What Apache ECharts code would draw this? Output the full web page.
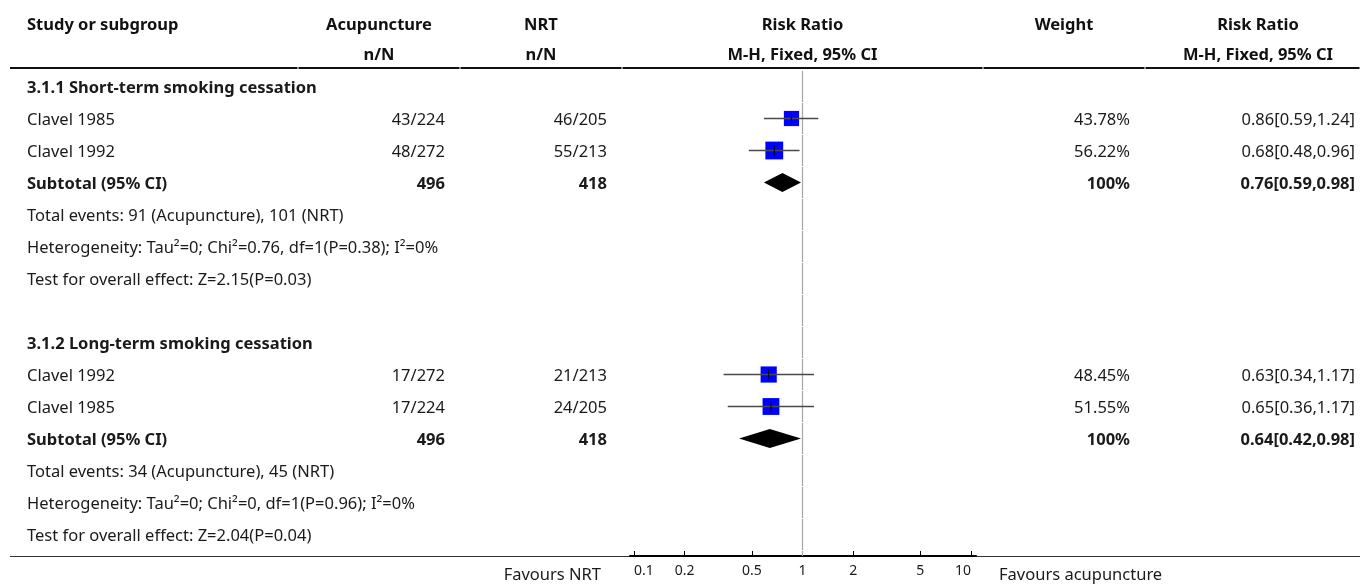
<!DOCTYPE html>
<html>
<head>
<meta charset="utf-8">
<script src="https://cdn.jsdelivr.net/npm/echarts@6/dist/echarts.min.js"></script>
<style>
  html, body { margin: 0; padding: 0; background: #fff; }
  #chart { width: 1360px; height: 584px; }
</style>
</head>
<body>
<div id="chart"></div>
<script>
// ---------------- data ----------------
const axisTickValues = [0.1, 0.2, 0.5, 1, 2, 5, 10];

const headerStudy = 'Study or subgroup';
const headerArmA = 'Acupuncture';
const headerArmB = 'NRT';
const headerCounts = 'n/N';
const headerEffect = 'Risk Ratio';
const headerMethod = 'M-H, Fixed, 95% CI';
const headerWeight = 'Weight';
const favoursLeft = 'Favours NRT';
const favoursRight = 'Favours acupuncture';

const group1Title = '3.1.1 Short-term smoking cessation';
const group1Studies = ['Clavel 1985', 'Clavel 1992'];
const group1AcuEvents = [43, 48];
const group1AcuTotal = [224, 272];
const group1NrtEvents = [46, 55];
const group1NrtTotal = [205, 213];
const group1RR = [0.86, 0.68];
const group1Lower = [0.59, 0.48];
const group1Upper = [1.24, 0.96];
const group1Weight = [43.78, 56.22];
const group1Subtotal = [0.76, 0.59, 0.98];
const group1SubtotalN = [496, 418];
const group1Notes = [
  'Total events: 91 (Acupuncture), 101 (NRT)',
  'Heterogeneity: Tau\u00B2=0; Chi\u00B2=0.76, df=1(P=0.38); I\u00B2=0%',
  'Test for overall effect: Z=2.15(P=0.03)'
];

const group2Title = '3.1.2 Long-term smoking cessation';
const group2Studies = ['Clavel 1992', 'Clavel 1985'];
const group2AcuEvents = [17, 17];
const group2AcuTotal = [272, 224];
const group2NrtEvents = [21, 24];
const group2NrtTotal = [213, 205];
const group2RR = [0.63, 0.65];
const group2Lower = [0.34, 0.36];
const group2Upper = [1.17, 1.17];
const group2Weight = [48.45, 51.55];
const group2Subtotal = [0.64, 0.42, 0.98];
const group2SubtotalN = [496, 418];
const group2Notes = [
  'Total events: 34 (Acupuncture), 45 (NRT)',
  'Heterogeneity: Tau\u00B2=0; Chi\u00B2=0, df=1(P=0.96); I\u00B2=0%',
  'Test for overall effect: Z=2.04(P=0.04)'
];

// ---------------- layout ----------------
const FONT = '"Noto Sans", "Open Sans", sans-serif';
const FS = 16.5;
const TEXT = '#1a1a1a';
const ROW_H = 32;
const FIRST_ROW_Y = 86.5;
const TEXT_DY = 1.5;
const TABLE_TOP = 70.5;
const AXIS_Y = 556;
const PLOT_LEFT = 630, PLOT_RIGHT = 976;
const PX_PER_DECADE = 168.5;
const TICK_MIN_X = 634;
const COL = { study: 27, acu: 445, nrt: 607, weight: 1130, rr: 1355 };
const HEAD = { acu: 379, nrt: 541, plot: 802.5, weight: 1064, rr: 1258 };
const COL_BREAKS = [298, 460, 622, 983, 1145];

const yMin = (TABLE_TOP - FIRST_ROW_Y) / ROW_H;
const yMax = (AXIS_Y - FIRST_ROW_Y) / ROW_H;
const xMin = -1 - (TICK_MIN_X - PLOT_LEFT) / PX_PER_DECADE;
const xMax = xMin + (PLOT_RIGHT - PLOT_LEFT) / PX_PER_DECADE;

const fmt2 = v => v.toFixed(2);
const ciText = (r, l, u) => fmt2(r) + '[' + fmt2(l) + ',' + fmt2(u) + ']';

// ---------------- build rows ----------------
const textItems = [];   // table cells
const marks = [];       // plot marks
let row = 0;

function addGroup(title, studies, aE, aT, nE, nT, rr, lo, hi, w, sub, subN, notes) {
  textItems.push({ row, x: COL.study, align: 'left', text: title, bold: true });
  row++;
  studies.forEach((s, i) => {
    textItems.push({ row, x: COL.study, align: 'left', text: s });
    textItems.push({ row, x: COL.acu, align: 'right', text: aE[i] + '/' + aT[i] });
    textItems.push({ row, x: COL.nrt, align: 'right', text: nE[i] + '/' + nT[i] });
    textItems.push({ row, x: COL.weight, align: 'right', text: fmt2(w[i]) + '%' });
    textItems.push({ row, x: COL.rr, align: 'right', text: ciText(rr[i], lo[i], hi[i]) });
    marks.push([Math.log10(rr[i]), row, Math.log10(lo[i]), Math.log10(hi[i]), w[i], 0]);
    row++;
  });
  textItems.push({ row, x: COL.study, align: 'left', text: 'Subtotal (95% CI)', bold: true });
  textItems.push({ row, x: COL.acu, align: 'right', text: String(subN[0]), bold: true });
  textItems.push({ row, x: COL.nrt, align: 'right', text: String(subN[1]), bold: true });
  textItems.push({ row, x: COL.weight, align: 'right', text: '100%', bold: true });
  textItems.push({ row, x: COL.rr, align: 'right', text: ciText(sub[0], sub[1], sub[2]), bold: true });
  marks.push([Math.log10(sub[0]), row, Math.log10(sub[1]), Math.log10(sub[2]), 100, 1]);
  row++;
  notes.forEach(n => {
    textItems.push({ row, x: COL.study, align: 'left', text: n });
    row++;
  });
}

addGroup(group1Title, group1Studies, group1AcuEvents, group1AcuTotal, group1NrtEvents, group1NrtTotal,
  group1RR, group1Lower, group1Upper, group1Weight, group1Subtotal, group1SubtotalN, group1Notes);
row++; // spacer row
addGroup(group2Title, group2Studies, group2AcuEvents, group2AcuTotal, group2NrtEvents, group2NrtTotal,
  group2RR, group2Lower, group2Upper, group2Weight, group2Subtotal, group2SubtotalN, group2Notes);
const rowCount = row;

const refSegments = [];
for (let k = 0; k <= rowCount; k++) refSegments.push([0, k]);

// ---------------- chart ----------------
const chart = echarts.init(document.getElementById('chart'), null, { renderer: 'canvas' });

const headerText = (x, y, text, align) => ({
  type: 'text', x, y, silent: true,
  style: { text, fill: '#111', font: 'bold ' + FS + 'px ' + FONT, align: align || 'center', verticalAlign: 'middle' }
});

const hLine = (x1, x2, y, w, color) => ({
  type: 'line', silent: true,
  shape: { x1, y1: y, x2, y2: y },
  style: { stroke: color, lineWidth: w }
});

const graphics = [];
graphics.push(headerText(COL.study, 25, headerStudy, 'left'));
graphics.push(headerText(HEAD.acu, 25, headerArmA));
graphics.push(headerText(HEAD.acu, 55, headerCounts));
graphics.push(headerText(HEAD.nrt, 25, headerArmB));
graphics.push(headerText(HEAD.nrt, 55, headerCounts));
graphics.push(headerText(HEAD.plot, 25, headerEffect));
graphics.push(headerText(HEAD.plot, 55, headerMethod));
graphics.push(headerText(HEAD.weight, 25, headerWeight));
graphics.push(headerText(HEAD.rr, 25, headerEffect));
graphics.push(headerText(HEAD.rr, 55, headerMethod));

// header rule, split at the column edges
const edges = [10].concat(COL_BREAKS, [1360]);
for (let i = 0; i < edges.length - 1; i++) {
  graphics.push(hLine(edges[i] + (i ? 0.5 : 0), edges[i + 1] - 0.5, 68, 2, '#111'));
}
// bottom rule on both sides of the plot axis
graphics.push(hLine(10, PLOT_LEFT, AXIS_Y + 0.5, 1.2, '#333'));
graphics.push(hLine(PLOT_RIGHT, 1360, AXIS_Y + 0.5, 1.2, '#333'));

graphics.push({
  type: 'text', x: 601, y: 575, silent: true,
  style: { text: favoursLeft, fill: TEXT, font: FS + 'px ' + FONT, align: 'right', verticalAlign: 'middle' }
});
graphics.push({
  type: 'text', x: 999, y: 575, silent: true,
  style: { text: favoursRight, fill: TEXT, font: FS + 'px ' + FONT, align: 'left', verticalAlign: 'middle' }
});

const option = {
  animation: false,
  backgroundColor: '#fff',
  grid: [
    { left: PLOT_LEFT, top: TABLE_TOP, width: PLOT_RIGHT - PLOT_LEFT, height: AXIS_Y - TABLE_TOP, containLabel: false },
    { left: 0, top: TABLE_TOP, width: 1360, height: AXIS_Y - TABLE_TOP, containLabel: false }
  ],
  xAxis: [
    {
      type: 'value', gridIndex: 0, min: xMin, max: xMax,
      splitLine: { show: false },
      axisLine: { show: true, onZero: false, lineStyle: { color: '#000', width: 2 } },
      axisTick: {
        show: true, inside: true, length: 5,
        customValues: axisTickValues.map(v => Math.log10(v)),
        lineStyle: { color: '#000', width: 1 }
      },
      axisLabel: {
        show: true, margin: 8,
        customValues: axisTickValues.map(v => Math.log10(v)),
        formatter: v => String(Math.round(Math.pow(10, v) * 10) / 10),
        fontFamily: FONT, fontSize: 14, color: TEXT,
        alignMinLabel: 'left', alignMaxLabel: 'right'
      }
    },
    { type: 'value', gridIndex: 1, min: 0, max: 1360, show: false }
  ],
  yAxis: [
    { type: 'value', gridIndex: 0, min: yMin, max: yMax, inverse: true, show: false },
    { type: 'value', gridIndex: 1, min: yMin, max: yMax, inverse: true, show: false }
  ],
  graphic: graphics,
  series: [
    {
      // line of no effect, drawn row by row
      type: 'custom', xAxisIndex: 0, yAxisIndex: 0, silent: true, clip: false,
      data: refSegments,
      renderItem: (params, api) => {
        const k = api.value(1);
        const top = api.coord([0, k - 0.5]);
        const bot = api.coord([0, k + 0.5]);
        const cs = params.coordSys;
        const yBottom = Math.min(bot[1] - 0.5, cs.y + cs.height);
        return {
          type: 'line',
          shape: { x1: top[0], y1: top[1] + 0.5, x2: top[0], y2: yBottom },
          style: { stroke: '#a6a6a6', lineWidth: 1.2 }
        };
      }
    },
    {
      type: 'custom', xAxisIndex: 0, yAxisIndex: 0, silent: true, clip: false,
      data: marks,
      encode: { x: [0, 2, 3], y: 1 },
      renderItem: (params, api) => {
        const c = api.coord([api.value(0), api.value(1)]);
        const l = api.coord([api.value(2), api.value(1)]);
        const h = api.coord([api.value(3), api.value(1)]);
        const w = api.value(4);
        if (api.value(5) === 1) {
          const half = 9.5;
          return {
            type: 'polygon',
            shape: { points: [[l[0], c[1]], [c[0], c[1] - half], [h[0], c[1]], [c[0], c[1] + half]] },
            style: { fill: '#000' }
          };
        }
        const s = 6 + 0.21 * w;
        return {
          type: 'group',
          children: [
            { type: 'rect', shape: { x: c[0] - s / 2, y: c[1] - s / 2, width: s, height: s }, style: { fill: '#0000ff' } },
            { type: 'line', shape: { x1: l[0], y1: c[1], x2: h[0], y2: c[1] }, style: { stroke: '#4a4a4a', lineWidth: 1.7 } },
            { type: 'line', shape: { x1: c[0], y1: c[1] - 5, x2: c[0], y2: c[1] + 5 }, style: { stroke: '#000', lineWidth: 1 } }
          ]
        };
      }
    },
    {
      // table cells
      type: 'custom', xAxisIndex: 1, yAxisIndex: 1, silent: true, clip: false,
      data: textItems.map(t => [t.x, t.row]),
      renderItem: (params, api) => {
        const t = textItems[params.dataIndex];
        const p = api.coord([api.value(0), api.value(1)]);
        return {
          type: 'text', x: p[0], y: p[1] + TEXT_DY,
          style: {
            text: t.text, fill: TEXT,
            font: (t.bold ? 'bold ' : '') + FS + 'px ' + FONT,
            align: t.align, verticalAlign: 'middle'
          }
        };
      }
    }
  ]
};

chart.setOption(option);
</script>
</body>
</html>
